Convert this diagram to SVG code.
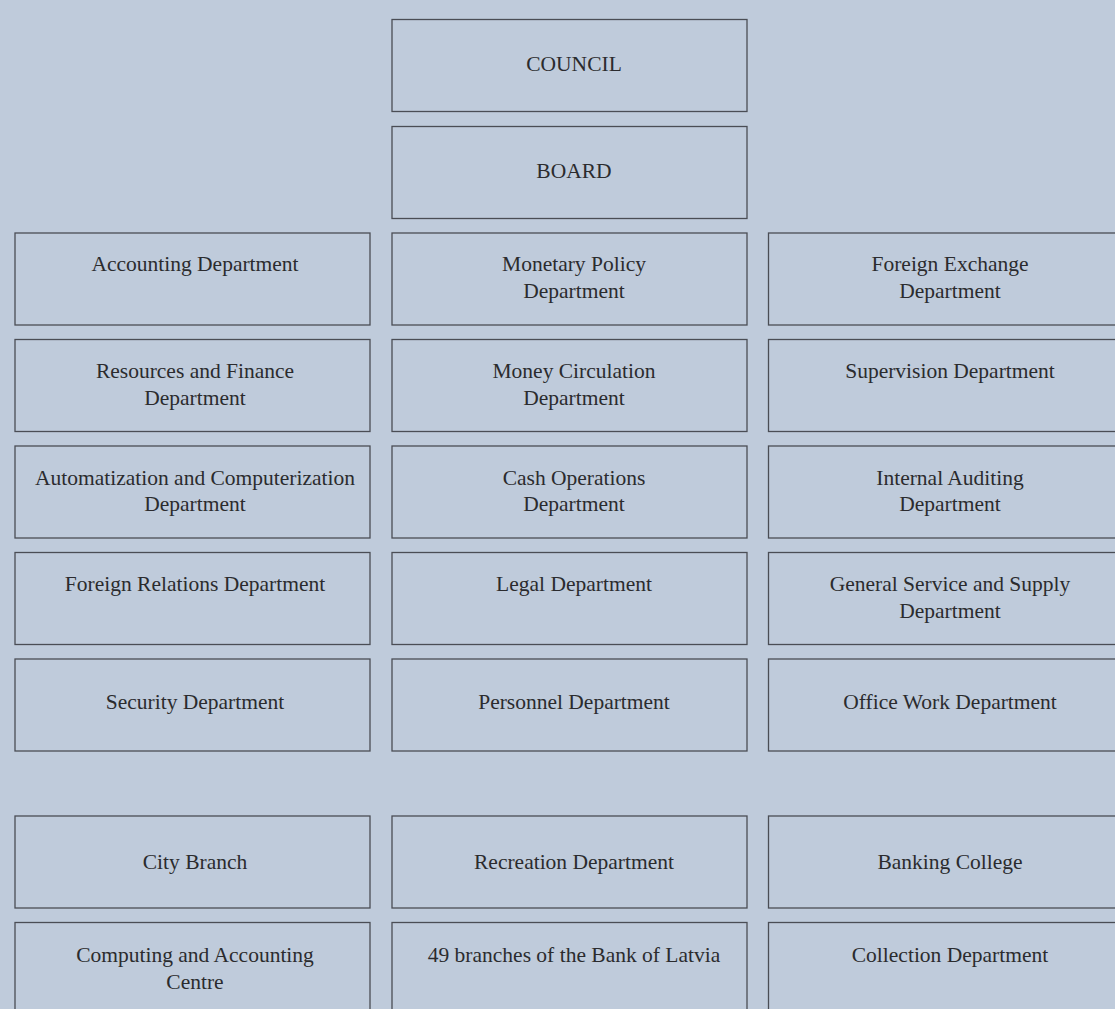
<svg xmlns="http://www.w3.org/2000/svg" width="1115" height="1009" viewBox="0 0 1115 1009">
<style>
.box{fill:#bfcbdb;stroke:#4a4d55;stroke-width:1.3}
.t{font-family:"Liberation Serif","Times New Roman",serif;font-size:21.5px;fill:#2b2b2e;text-anchor:middle}
</style>
<rect width="1115" height="1009" fill="#bfcbdb"/>
<g id="council"><rect class="box" x="392" y="19.5" width="355" height="92"/><text class="t" x="574" y="71">COUNCIL</text></g>
<g id="board"><rect class="box" x="392" y="126.5" width="355" height="92"/><text class="t" x="574" y="178">BOARD</text></g>

<g id="accounting"><rect class="box" x="15" y="233" width="355" height="92"/><text class="t" x="195" y="271">Accounting Department</text></g>
<g id="monetary"><rect class="box" x="392" y="233" width="355" height="92"/><text class="t" x="574" y="271">Monetary Policy</text><text class="t" x="574" y="298">Department</text></g>
<g id="foreign-exchange"><rect class="box" x="768.5" y="233" width="360" height="92"/><text class="t" x="950" y="271">Foreign Exchange</text><text class="t" x="950" y="298">Department</text></g>

<g id="resources"><rect class="box" x="15" y="339.5" width="355" height="92"/><text class="t" x="195" y="378">Resources and Finance</text><text class="t" x="195" y="405">Department</text></g>
<g id="money-circulation"><rect class="box" x="392" y="339.5" width="355" height="92"/><text class="t" x="574" y="378">Money Circulation</text><text class="t" x="574" y="405">Department</text></g>
<g id="supervision"><rect class="box" x="768.5" y="339.5" width="360" height="92"/><text class="t" x="950" y="378">Supervision Department</text></g>

<g id="automatization"><rect class="box" x="15" y="446" width="355" height="92"/><text class="t" x="195" y="485">Automatization and Computerization</text><text class="t" x="195" y="511">Department</text></g>
<g id="cash"><rect class="box" x="392" y="446" width="355" height="92"/><text class="t" x="574" y="485">Cash Operations</text><text class="t" x="574" y="511">Department</text></g>
<g id="internal-auditing"><rect class="box" x="768.5" y="446" width="360" height="92"/><text class="t" x="950" y="485">Internal Auditing</text><text class="t" x="950" y="511">Department</text></g>

<g id="foreign-relations"><rect class="box" x="15" y="552.5" width="355" height="92"/><text class="t" x="195" y="591">Foreign Relations Department</text></g>
<g id="legal"><rect class="box" x="392" y="552.5" width="355" height="92"/><text class="t" x="574" y="591">Legal Department</text></g>
<g id="general-service"><rect class="box" x="768.5" y="552.5" width="360" height="92"/><text class="t" x="950" y="591">General Service and Supply</text><text class="t" x="950" y="618">Department</text></g>

<g id="security"><rect class="box" x="15" y="659" width="355" height="92"/><text class="t" x="195" y="709">Security Department</text></g>
<g id="personnel"><rect class="box" x="392" y="659" width="355" height="92"/><text class="t" x="574" y="709">Personnel Department</text></g>
<g id="office-work"><rect class="box" x="768.5" y="659" width="360" height="92"/><text class="t" x="950" y="709">Office Work Department</text></g>

<g id="city-branch"><rect class="box" x="15" y="816" width="355" height="92"/><text class="t" x="195" y="869">City Branch</text></g>
<g id="recreation"><rect class="box" x="392" y="816" width="355" height="92"/><text class="t" x="574" y="869">Recreation Department</text></g>
<g id="banking-college"><rect class="box" x="768.5" y="816" width="360" height="92"/><text class="t" x="950" y="869">Banking College</text></g>

<g id="computing"><rect class="box" x="15" y="922.5" width="355" height="100"/><text class="t" x="195" y="962">Computing and Accounting</text><text class="t" x="195" y="989">Centre</text></g>
<g id="branches"><rect class="box" x="392" y="922.5" width="355" height="100"/><text class="t" x="574" y="962">49 branches of the Bank of Latvia</text></g>
<g id="collection"><rect class="box" x="768.5" y="922.5" width="360" height="100"/><text class="t" x="950" y="962">Collection Department</text></g>
<g id="connectors"/>
</svg>
